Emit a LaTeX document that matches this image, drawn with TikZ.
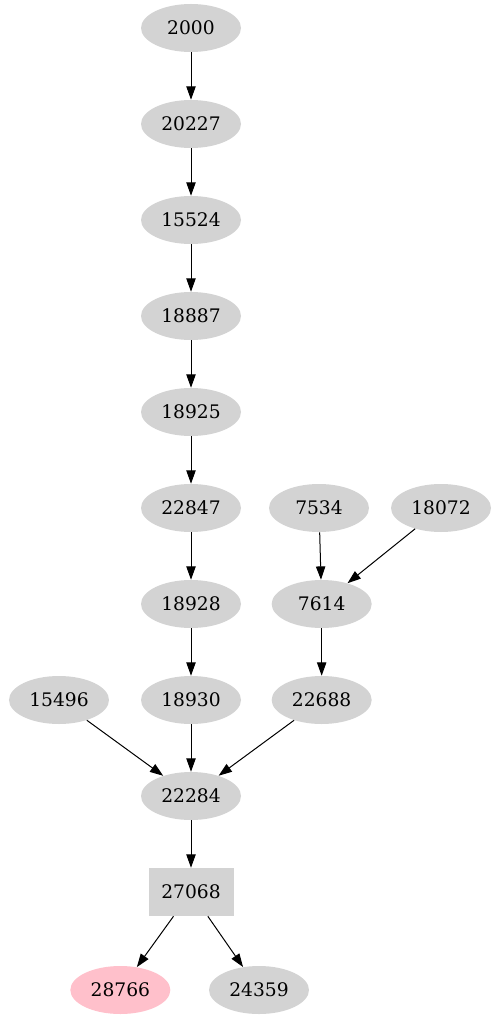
\documentclass[tikz,border=0pt]{standalone}
\usepackage{fontspec}
\setmainfont{DejaVu Serif}
\usepackage{xcolor}
\usetikzlibrary{arrows.meta,positioning,shapes.geometric}
\definecolor{nodegray}{RGB}{211,211,211}
\definecolor{nodepink}{RGB}{255,192,203}

\begin{document}
\begin{tikzpicture}[
  node distance=72pt and 96pt, on grid,
  vtx/.style ={ellipse, fill=nodegray, minimum width=75pt, minimum height=36pt,
               inner sep=0pt, font=\fontsize{14}{16}\selectfont},
  hit/.style ={vtx, fill=nodepink},
  sq/.style  ={rectangle, fill=nodegray, minimum width=63.75pt, minimum height=36pt,
               inner sep=0pt, font=\fontsize{14}{16}\selectfont},
  ar/.style  ={-{Triangle[length=10pt,width=7pt]}, line width=0.75pt, draw=black}
]
\useasboundingbox (-143.25pt,21pt) rectangle (233.25pt,-743.25pt);
% main chain
\node[vtx] (a2000) {2000};
\node[vtx, below=of a2000]  (a20227) {20227};
\node[vtx, below=of a20227] (a15524) {15524};
\node[vtx, below=of a15524] (a18887) {18887};
\node[vtx, below=of a18887] (a18925) {18925};
\node[vtx, below=of a18925] (a22847) {22847};
\node[vtx, below=of a22847] (a18928) {18928};
\node[vtx, below=of a18928] (a18930) {18930};
\node[vtx, below=of a18930] (a22284) {22284};
\node[sq,  below=of a22284] (a27068) {27068};
\node[hit, below=73.5pt of a27068, xshift=-53pt] (a28766) {28766};
\node[vtx, below=73.5pt of a27068, xshift=51pt]  (a24359) {24359};
% side branch
\node[vtx, right=of a22847]     (a7534)  {7534};
\node[vtx, right=91.5pt of a7534] (a18072) {18072};
\node[vtx, right=98pt of a18928]  (a7614)  {7614};
\node[vtx, below=of a7614]        (a22688) {22688};
\node[vtx, left=99pt of a18930]   (a15496) {15496};
\draw[ar] (a2000)--(a20227); \draw[ar] (a20227)--(a15524); \draw[ar] (a15524)--(a18887);
\draw[ar] (a18887)--(a18925); \draw[ar] (a18925)--(a22847); \draw[ar] (a22847)--(a18928);
\draw[ar] (a18928)--(a18930); \draw[ar] (a18930)--(a22284); \draw[ar] (a22284)--(a27068);
\draw[ar] (a27068)--(a28766); \draw[ar] (a27068)--(a24359);
\draw[ar] (a7534)--(a7614); \draw[ar] (a18072)--(a7614); \draw[ar] (a7614)--(a22688);
\draw[ar] (a22688)--(a22284); \draw[ar] (a15496)--(a22284);
\end{tikzpicture}
\end{document}
